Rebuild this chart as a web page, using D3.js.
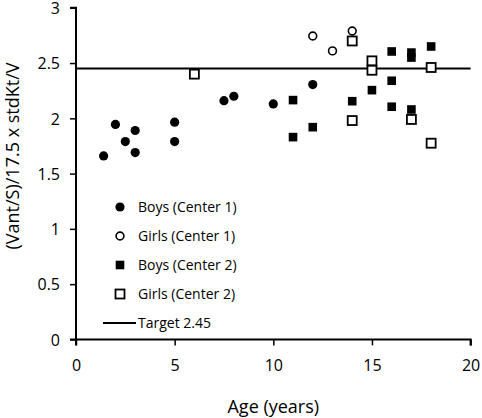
<!DOCTYPE html>
<html><head><meta charset="utf-8">
<script src="https://cdn.jsdelivr.net/npm/d3@7"></script>
<style>html,body{margin:0;padding:0;background:#fff;} text{font-family:"Open Sans",sans-serif;fill:#000;}</style>
</head><body><svg id="c" width="482" height="418"></svg>
<script>
const boysC1Age = [1.4, 2.0, 2.5, 3.0, 3.0, 5.0, 5.0, 7.5, 8.0, 10.0, 12.0];
const boysC1Val = [1.66, 1.945, 1.79, 1.89, 1.69, 1.965, 1.79, 2.16, 2.2, 2.13, 2.305];
const girlsC1Age = [12.0, 13.0, 14.0];
const girlsC1Val = [2.745, 2.61, 2.79];
const boysC2Age = [11, 11, 12, 14, 15, 16, 16, 16, 17, 17, 17, 18];
const boysC2Val = [2.165, 1.83, 1.92, 2.155, 2.255, 2.605, 2.34, 2.105, 2.595, 2.55, 2.08, 2.65];
const girlsC2Age = [6, 14, 14, 15, 15, 17, 18, 18];
const girlsC2Val = [2.4, 2.70, 1.98, 2.52, 2.435, 1.99, 2.46, 1.775];
const target = 2.45;
const xTicks = [0, 5, 10, 15, 20];
const yTicks = [0, 0.5, 1, 1.5, 2, 2.5, 3];
const legendLabels = ["Boys (Center 1)", "Girls (Center 1)", "Boys (Center 2)", "Girls (Center 2)", "Target 2.45"];

const svg = d3.select("#c");
const x = d3.scaleLinear().domain([0, 20]).range([76, 470.6]);
const y = d3.scaleLinear().domain([0, 3]).range([339.4, 7.8]);

// axes
const xAxis = svg.append("g").attr("transform", `translate(0,${y(0)})`)
  .call(d3.axisBottom(x).tickValues(xTicks).tickSize(6).tickPadding(14).tickFormat(d3.format("d")));
const yAxis = svg.append("g").attr("transform", `translate(${x(0)},0)`)
  .call(d3.axisLeft(y).tickValues(yTicks).tickSize(6).tickPadding(10).tickFormat(d => d3.format("")(d)));
[xAxis, yAxis].forEach(g => {
  g.select(".domain").attr("stroke", "#000").attr("stroke-width", 2);
  g.selectAll(".tick line").attr("stroke", "#000").attr("stroke-width", 1.5);
  g.selectAll("text").style("font-size", "16px").attr("fill", "#000");
});
xAxis.select(".domain").attr("d", `M${x(0)},6V0H${x(20)}V6`);
yAxis.select(".domain").attr("d", `M-6,${y(3)}H0V${y(0)}H-6`);
yAxis.selectAll(".tick text").attr("dy", "0.36em");

// target line
svg.append("line").attr("x1", x(0)).attr("x2", x(20)).attr("y1", y(target)).attr("y2", y(target))
  .attr("stroke", "#000").attr("stroke-width", 2);

const zip = (a, b) => a.map((v, i) => [v, b[i]]);
// boys C1 filled circles
svg.append("g").selectAll("circle").data(zip(boysC1Age, boysC1Val)).join("circle")
  .attr("cx", d => x(d[0])).attr("cy", d => y(d[1])).attr("r", 4.6).attr("fill", "#000");
// girls C1 open circles
svg.append("g").selectAll("circle").data(zip(girlsC1Age, girlsC1Val)).join("circle")
  .attr("cx", d => x(d[0])).attr("cy", d => y(d[1])).attr("r", 3.9).attr("fill", "#fff")
  .attr("stroke", "#000").attr("stroke-width", 1.6);
// boys C2 filled squares
svg.append("g").selectAll("rect").data(zip(boysC2Age, boysC2Val)).join("rect")
  .attr("x", d => x(d[0]) - 4.3).attr("y", d => y(d[1]) - 4.3).attr("width", 8.6).attr("height", 8.6).attr("fill", "#000");
// girls C2 open squares
svg.append("g").selectAll("rect").data(zip(girlsC2Age, girlsC2Val)).join("rect")
  .attr("x", d => x(d[0]) - 4.5).attr("y", d => y(d[1]) - 4.5).attr("width", 9).attr("height", 9)
  .attr("fill", "#fff").attr("stroke", "#000").attr("stroke-width", 1.8);

// legend
const lg = svg.append("g");
const ly = [207, 236, 265, 294, 323];
legendLabels.forEach((t, i) => {
  const cy = ly[i];
  if (i === 0) lg.append("circle").attr("cx", 120).attr("cy", cy).attr("r", 4.6).attr("fill", "#000");
  if (i === 1) lg.append("circle").attr("cx", 120).attr("cy", cy).attr("r", 3.9).attr("fill", "#fff").attr("stroke", "#000").attr("stroke-width", 1.6);
  if (i === 2) lg.append("rect").attr("x", 115.7).attr("y", cy - 4.3).attr("width", 8.6).attr("height", 8.6).attr("fill", "#000");
  if (i === 3) lg.append("rect").attr("x", 115.5).attr("y", cy - 4.5).attr("width", 9).attr("height", 9).attr("fill", "#fff").attr("stroke", "#000").attr("stroke-width", 1.8);
  if (i === 4) lg.append("line").attr("x1", 103).attr("x2", 136).attr("y1", cy).attr("y2", cy).attr("stroke", "#000").attr("stroke-width", 2);
  lg.append("text").attr("x", 138).attr("y", cy).attr("dy", "0.35em").style("font-size", "14px").text(t);
});

// titles
svg.append("text").attr("x", (x(0) + x(20)) / 2).attr("y", 413).attr("text-anchor", "middle")
  .style("font-size", "18px").text("Age (years)");
svg.append("text").attr("transform", `translate(13,156) rotate(-90)`)
  .attr("text-anchor", "middle").attr("dy", "0.35em").style("font-size", "18px").text("(Vant/S)/17.5 x stdKt/V");
</script></body></html>
